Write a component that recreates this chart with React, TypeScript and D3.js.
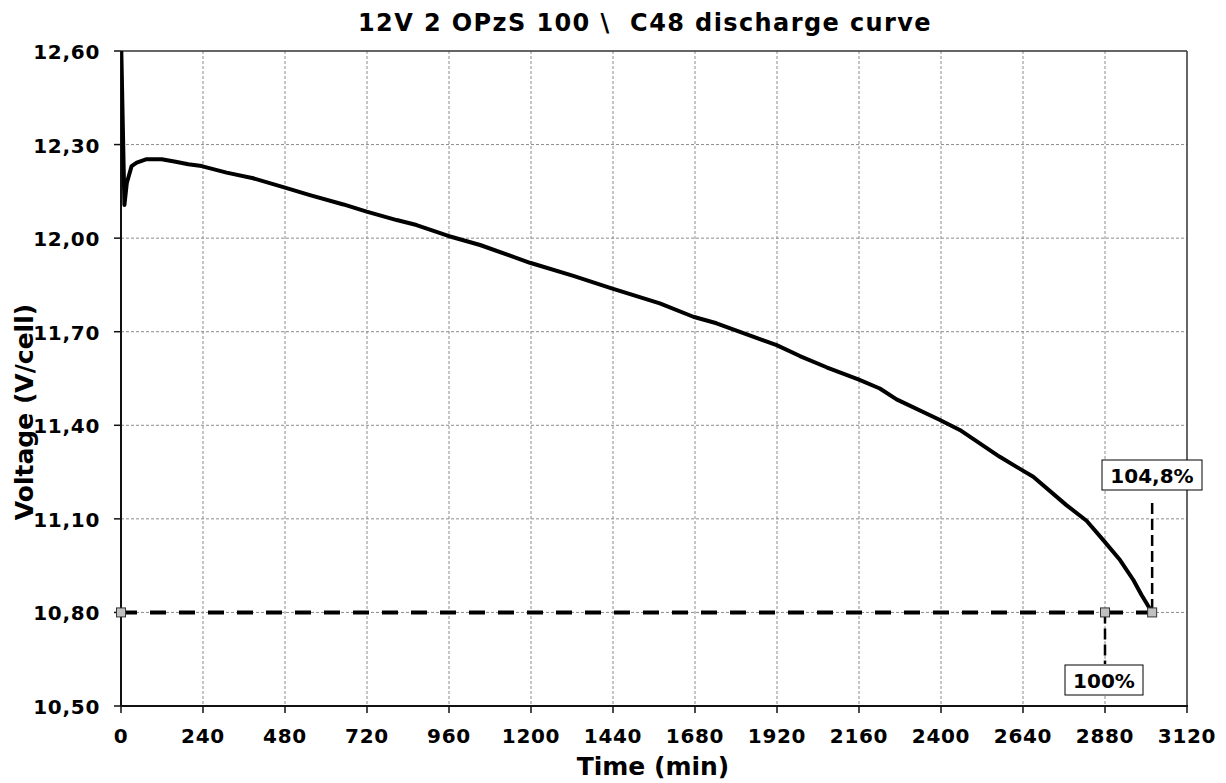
import React from "react";
import * as d3 from "d3";

const title = "12V 2 OPzS 100 \\  C48 discharge curve";
const xLabel = "Time (min)";
const yLabel = "Voltage (V/cell)";

const xTicks = [0, 240, 480, 720, 960, 1200, 1440, 1680, 1920, 2160, 2400, 2640, 2880, 3120];
const yTicks = [10.5, 10.8, 11.1, 11.4, 11.7, 12.0, 12.3, 12.6];

const timeMin = [0, 10, 17, 31, 46, 75, 119, 160, 197, 236, 309, 387, 480, 553, 651, 719, 807, 865, 958, 1051, 1197, 1324, 1436, 1577, 1675, 1743, 1919, 1987, 2065, 2158, 2221, 2270, 2397, 2455, 2572, 2636, 2670, 2767, 2826, 2875, 2924, 2963, 2987, 3018];
const voltage = [12.65, 12.106, 12.177, 12.231, 12.242, 12.253, 12.253, 12.245, 12.237, 12.231, 12.21, 12.192, 12.162, 12.138, 12.108, 12.085, 12.058, 12.042, 12.007, 11.978, 11.921, 11.879, 11.839, 11.791, 11.748, 11.727, 11.657, 11.622, 11.586, 11.547, 11.518, 11.483, 11.417, 11.385, 11.299, 11.257, 11.235, 11.144, 11.094, 11.032, 10.968, 10.904, 10.856, 10.8];

const cutoffVoltage = 10.8;
const cutoffTimes = [0, 2880, 3018];
const labelNominal = { t: 2880, text: "100%" };
const labelActual = { t: 3018, text: "104,8%" };

const W = 1226;
const H = 783;
const M = { left: 121, top: 51, right: 1187, bottom: 706 };
const FONT = "'DejaVu Sans', Verdana, sans-serif";

export default function App() {
  const x = d3.scaleLinear().domain([0, 3120]).range([M.left, M.right]);
  const y = d3.scaleLinear().domain([10.5, 12.6]).range([M.bottom, M.top]);
  const pts = timeMin.map((t, i) => [t, voltage[i]] as [number, number]);
  const line = d3.line<[number, number]>().x(d => x(d[0])).y(d => y(d[1]));
  const fmt = (v: number) => v.toFixed(2).replace(".", ",");
  const yc = y(cutoffVoltage);

  return (
    <svg width={W} height={H} style={{ position: "absolute", left: 0, top: 0, background: "#fff" }} fontFamily={FONT}>
      <defs>
        <clipPath id="plotClip">
          <rect x={M.left} y={M.top} width={M.right - M.left} height={M.bottom - M.top} />
        </clipPath>
      </defs>
      <rect x={0} y={0} width={W} height={H} fill="#fff" />
      {/* grid */}
      {xTicks.slice(1, -1).map(t => (
        <line key={"gx" + t} x1={x(t)} x2={x(t)} y1={M.top} y2={M.bottom} stroke="#8c8c8c" strokeWidth={1} strokeDasharray="3 2" />
      ))}
      {yTicks.slice(1, -1).map(v => (
        <line key={"gy" + v} x1={M.left} x2={M.right} y1={y(v)} y2={y(v)} stroke="#8c8c8c" strokeWidth={1} strokeDasharray="3 2" />
      ))}
      {/* frame */}
      <line x1={M.left} x2={M.right} y1={M.top} y2={M.top} stroke="#333" strokeWidth={1.5} />
      <line x1={M.right} x2={M.right} y1={M.top} y2={M.bottom} stroke="#333" strokeWidth={1.5} />
      <line x1={M.left} x2={M.right + 1} y1={M.bottom} y2={M.bottom} stroke="#111" strokeWidth={2} />
      <line x1={M.left} x2={M.left} y1={M.top} y2={M.bottom} stroke="#111" strokeWidth={2} />
      {/* ticks */}
      {xTicks.map(t => (
        <g key={"tx" + t}>
          <line x1={x(t)} x2={x(t)} y1={M.bottom} y2={M.bottom + 7} stroke="#111" strokeWidth={1.5} />
          <text x={x(t)} y={743} textAnchor="middle" fontSize={20} fontWeight="bold" letterSpacing={0.7} fill="#000">{t}</text>
        </g>
      ))}
      {yTicks.map(v => (
        <g key={"ty" + v}>
          <line x1={M.left - 7} x2={M.left} y1={y(v)} y2={y(v)} stroke="#111" strokeWidth={1.5} />
          <text x={100} y={y(v) + 8} textAnchor="end" fontSize={20} fontWeight="bold" letterSpacing={0.7} fill="#000">{fmt(v)}</text>
        </g>
      ))}
      {/* cutoff line */}
      <line x1={x(cutoffTimes[0])} x2={x(cutoffTimes[2])} y1={yc} y2={yc} stroke="#000" strokeWidth={4} strokeDasharray="16 13" />
      {/* vertical markers */}
      <line x1={x(labelActual.t)} x2={x(labelActual.t)} y1={503} y2={yc} stroke="#000" strokeWidth={2.5} strokeDasharray="11 5" />
      <line x1={x(labelNominal.t)} x2={x(labelNominal.t)} y1={yc} y2={664} stroke="#000" strokeWidth={2.5} strokeDasharray="11 5" />
      {/* curve */}
      <path d={line(pts) || ""} fill="none" stroke="#000" strokeWidth={4} strokeLinejoin="round" clipPath="url(#plotClip)" />
      {/* markers */}
      {cutoffTimes.map(t => (
        <rect key={"m" + t} x={x(t) - 4.5} y={yc - 4.5} width={9} height={9} fill="#c0c0c0" stroke="#333" strokeWidth={1} />
      ))}
      {/* labels */}
      <g>
        <rect x={1102} y={460} width={100} height={30} fill="#fff" stroke="#000" strokeWidth={1} />
        <text x={1152} y={483} textAnchor="middle" fontSize={20} fontWeight="bold" fill="#000">{labelActual.text}</text>
      </g>
      <g>
        <rect x={1065} y={665} width={78} height={30} fill="#fff" stroke="#000" strokeWidth={1} />
        <text x={1104} y={688} textAnchor="middle" fontSize={20} fontWeight="bold" fill="#000">{labelNominal.text}</text>
      </g>
      {/* titles */}
      <text x={645} y={31} textAnchor="middle" fontSize={24} fontWeight="bold" letterSpacing={1.4} fill="#000" style={{ whiteSpace: "pre" }}>{title}</text>
      <text x={653} y={775} textAnchor="middle" fontSize={25} fontWeight="bold" fill="#000">{xLabel}</text>
      <text transform={`translate(33,412) rotate(-90)`} textAnchor="middle" fontSize={25} fontWeight="bold" fill="#000">{yLabel}</text>
    </svg>
  );
}
